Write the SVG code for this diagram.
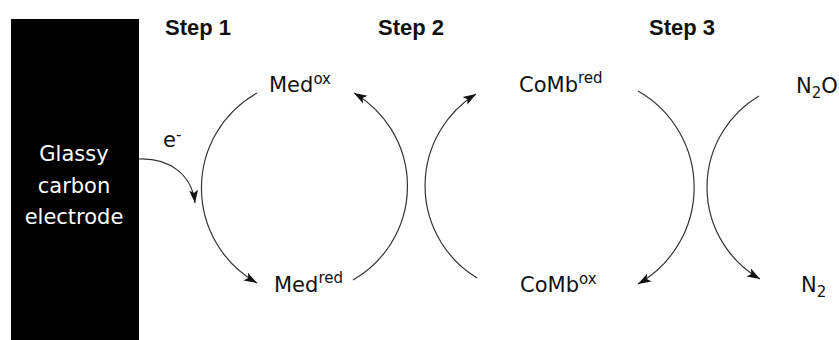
<svg xmlns="http://www.w3.org/2000/svg" width="839" height="340" viewBox="0 0 839 340">
<style>
.lbl{font-family:"DejaVu Sans","Liberation Sans",sans-serif;font-size:21px;fill:#111}
.sup{font-size:15px}
.step{font-family:"Liberation Sans",Arial,sans-serif;font-weight:bold;font-size:22px;fill:#111}
.wht{fill:#fff}
.arc{fill:none;stroke:#333;stroke-width:1.2}
</style>
<defs>
<marker id="ah" markerUnits="userSpaceOnUse" markerWidth="14" markerHeight="10" viewBox="0 0 14 10" refX="13" refY="5" orient="auto">
<path d="M0,0.5 L13,5 L0,9.5 L3,5 Z" fill="#111"/>
</marker>
</defs>
<rect x="0" y="0" width="839" height="340" fill="#fff"/>
<g id="electrode">
<rect x="11" y="19" width="128" height="321" fill="#000"/>
<text class="lbl wht" text-anchor="middle" x="74" y="161">Glassy</text>
<text class="lbl wht" text-anchor="middle" x="74" y="193">carbon</text>
<text class="lbl wht" text-anchor="middle" x="74" y="224">electrode</text>
</g>
<g id="steps">
<text class="step" x="165" y="35">Step 1</text>
<text class="step" x="378" y="35">Step 2</text>
<text class="step" x="649" y="35">Step 3</text>
</g>
<g id="med-ox"><text class="lbl" x="269" y="92">Med<tspan class="sup" dy="-8">ox</tspan></text></g>
<g id="med-red"><text class="lbl" x="274" y="292">Med<tspan class="sup" dy="-9">red</tspan></text></g>
<g id="comb-red"><text class="lbl" x="519" y="92">CoMb<tspan class="sup" dy="-9">red</tspan></text></g>
<g id="comb-ox"><text class="lbl" x="520" y="292">CoMb<tspan class="sup" dy="-8">ox</tspan></text></g>
<g id="n2o"><text class="lbl" x="796" y="93">N<tspan class="sup" dy="5">2</tspan><tspan dy="-5">O</tspan></text></g>
<g id="n2"><text class="lbl" x="801" y="292">N<tspan class="sup" dy="5">2</tspan></text></g>
<g id="eminus"><text class="lbl" x="163" y="147">e<tspan class="sup" dy="-7">-</tspan></text></g>
<g id="connectors">
<path class="arc" d="M139,159 C170,158 192,175 195,203" marker-end="url(#ah)"/>
<path class="arc" d="M257,93 A109,109 0 0 0 257,283" marker-end="url(#ah)"/>
<path class="arc" d="M353,280 A108,108 0 0 0 354,93" marker-end="url(#ah)"/>
<path class="arc" d="M477,278 A108,108 0 0 1 476,94" marker-end="url(#ah)"/>
<path class="arc" d="M638,91 A111,111 0 0 1 638,284" marker-end="url(#ah)"/>
<path class="arc" d="M759,96 A106,106 0 0 0 760,279" marker-end="url(#ah)"/>
</g>
</svg>
